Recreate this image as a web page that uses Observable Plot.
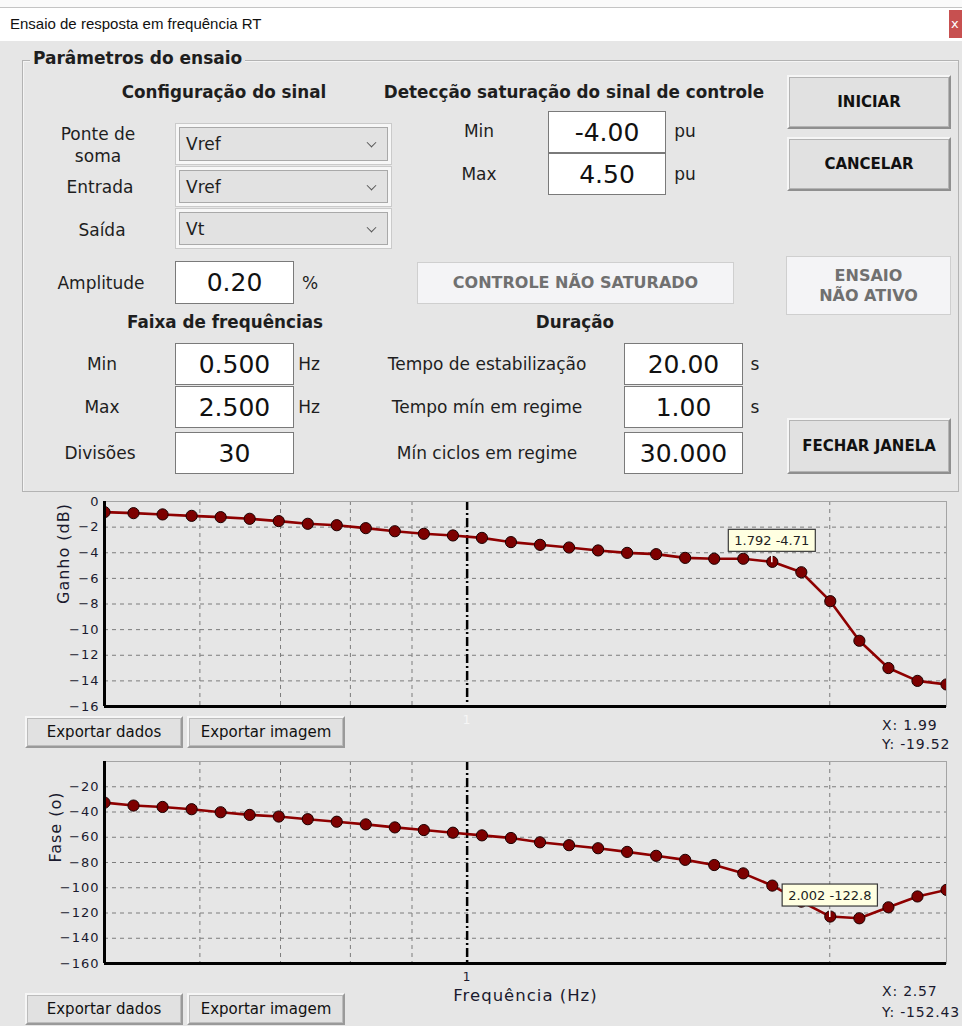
<!DOCTYPE html>
<html><head><meta charset="utf-8">
<script src="https://cdn.jsdelivr.net/npm/d3@7"></script>
<script src="https://cdn.jsdelivr.net/npm/@observablehq/plot@0.6"></script>
<style>
html,body{margin:0;padding:0}
body{width:962px;height:1026px;background:#e6e6e6;position:relative;overflow:hidden;font-family:"DejaVu Sans",sans-serif;color:#1e1e1e}
.abs{position:absolute}
.c{position:absolute;transform:translate(-50%,-50%);white-space:nowrap;font-size:17px;text-align:center}
.h{font-weight:bold;font-size:16.8px}
.tb{position:absolute;box-sizing:border-box;background:#fff;border:1px solid #7a7a7a;font-size:25px;display:flex;align-items:center;justify-content:center;color:#111}
.cb{position:absolute;box-sizing:border-box;border:1px solid #cacaca;background:#f7f7f7;padding:3px}
.cbi{position:relative;box-sizing:border-box;width:100%;height:100%;border:1px solid #a9a9a9;background:#e2e2e2;font-size:17px;display:flex;align-items:center;padding-left:6px}
.chev{position:absolute;right:12px;top:50%;width:6px;height:6px;border-right:1px solid #555;border-bottom:1px solid #555;transform:translateY(-70%) rotate(45deg)}
.btn{position:absolute;box-sizing:border-box;background:#e1e1e1;border:2px solid;border-color:#f6f6f6 #8f8f8f #8f8f8f #f6f6f6;box-shadow:inset 0 0 0 1px #b4b4b4;display:flex;align-items:center;justify-content:center;font-weight:bold;font-size:15px;color:#111}
.xbtn{position:absolute;box-sizing:border-box;background:#e1e1e1;border:2px solid;border-color:#f6f6f6 #9a9a9a #9a9a9a #f6f6f6;box-shadow:inset 0 0 0 1px #bcbcbc;display:flex;align-items:center;justify-content:center;font-size:15px;color:#111}
.st{position:absolute;box-sizing:border-box;background:#f4f4f6;border:1px solid #cfcfcf;display:flex;align-items:center;justify-content:center;text-align:center;font-weight:bold;font-size:16px;color:#707070;line-height:20px}
.ro{position:absolute;font-size:14px;letter-spacing:0.8px;color:#1a1a2e;white-space:nowrap;transform:translateY(-50%)}
.chart{position:absolute;left:0}
</style>
</head><body>
<!-- window title -->
<div class="abs" style="left:0;top:0;width:962px;height:7px;background:#fafafa;border-bottom:1px solid #c4c4c4"></div>
<div class="abs" style="left:0;top:8px;width:962px;height:33px;background:#fff"></div>
<div class="abs" style="left:10px;top:23px;transform:translateY(-50%);font-family:'Liberation Sans',sans-serif;font-size:15px;color:#111;white-space:nowrap">Ensaio de resposta em frequência RT</div>
<div class="abs" style="left:949px;top:10px;width:13px;height:28px;background:#c75050;color:#fff;font-size:13px;line-height:28px;padding-left:2px;box-sizing:border-box">x</div>

<!-- group box -->
<div class="abs" style="left:22px;top:60px;width:937px;height:432px;box-sizing:border-box;border:1px solid #b3b3b3;box-shadow:inset 1px 1px 0 #f4f4f4"></div>
<div class="abs" style="left:30px;top:58px;transform:translateY(-50%);background:#e6e6e6;padding:0 3px;font-size:17px;font-weight:bold;white-space:nowrap">Parâmetros do ensaio</div>

<div class="c h" style="left:224px;top:92px">Configuração do sinal</div>
<div class="c h" style="left:574px;top:92px">Detecção saturação do sinal de controle</div>
<div class="c h" style="left:225px;top:322px">Faixa de frequências</div>
<div class="c h" style="left:575px;top:322px">Duração</div>

<div class="c" style="left:98px;top:145px;line-height:22px">Ponte de<br>soma</div>
<div class="c" style="left:100px;top:187px">Entrada</div>
<div class="c" style="left:102px;top:230px">Saída</div>
<div class="c" style="left:101px;top:283px">Amplitude</div>
<div class="c" style="left:310px;top:283px">%</div>

<div class="cb" style="left:175px;top:123px;width:217px;height:42px"><div class="cbi">Vref<span class="chev"></span></div></div>
<div class="cb" style="left:175px;top:166px;width:217px;height:41px"><div class="cbi">Vref<span class="chev"></span></div></div>
<div class="cb" style="left:175px;top:208px;width:217px;height:41px"><div class="cbi">Vt<span class="chev"></span></div></div>

<div class="tb" style="left:175px;top:261px;width:119px;height:43px">0.20</div>

<div class="c" style="left:479px;top:131px">Min</div>
<div class="c" style="left:479px;top:174px">Max</div>
<div class="tb" style="left:548px;top:111px;width:118px;height:42px">-4.00</div>
<div class="tb" style="left:548px;top:153px;width:118px;height:42px">4.50</div>
<div class="c" style="left:685px;top:131px">pu</div>
<div class="c" style="left:685px;top:174px">pu</div>

<div class="btn" style="left:787px;top:75px;width:164px;height:54px">INICIAR</div>
<div class="btn" style="left:787px;top:137px;width:164px;height:54px">CANCELAR</div>
<div class="btn" style="left:787px;top:418px;width:164px;height:56px">FECHAR JANELA</div>

<div class="st" style="left:417px;top:262px;width:317px;height:42px">CONTROLE NÃO SATURADO</div>
<div class="st" style="left:786px;top:256px;width:165px;height:59px">ENSAIO<br>NÃO ATIVO</div>

<div class="c" style="left:102px;top:364px">Min</div>
<div class="c" style="left:102px;top:407px">Max</div>
<div class="c" style="left:100px;top:453px">Divisões</div>
<div class="tb" style="left:175px;top:343px;width:119px;height:42px">0.500</div>
<div class="tb" style="left:175px;top:386px;width:119px;height:42px">2.500</div>
<div class="tb" style="left:175px;top:432px;width:119px;height:42px">30</div>
<div class="c" style="left:309px;top:364px">Hz</div>
<div class="c" style="left:309px;top:407px">Hz</div>

<div class="c" style="left:487px;top:364px">Tempo de estabilização</div>
<div class="c" style="left:487px;top:407px">Tempo mín em regime</div>
<div class="c" style="left:487px;top:453px">Mín ciclos em regime</div>
<div class="tb" style="left:624px;top:343px;width:119px;height:42px">20.00</div>
<div class="tb" style="left:624px;top:386px;width:119px;height:42px">1.00</div>
<div class="tb" style="left:624px;top:432px;width:119px;height:42px">30.000</div>
<div class="c" style="left:755px;top:364px">s</div>
<div class="c" style="left:755px;top:407px">s</div>

<!-- charts -->
<div id="gain" class="chart" style="top:490px"></div>
<div id="phase" class="chart" style="top:750px"></div>

<div class="xbtn" style="left:25px;top:716px;width:158px;height:32px">Exportar dados</div>
<div class="xbtn" style="left:187px;top:716px;width:158px;height:32px">Exportar imagem</div>
<div class="xbtn" style="left:25px;top:993px;width:158px;height:32px">Exportar dados</div>
<div class="xbtn" style="left:187px;top:993px;width:158px;height:32px">Exportar imagem</div>

<div id="ro-gain-x" class="ro" style="left:882px;top:725px"></div>
<div id="ro-gain-y" class="ro" style="left:882px;top:744px"></div>
<div id="ro-phase-x" class="ro" style="left:882px;top:991px"></div>
<div id="ro-phase-y" class="ro" style="left:882px;top:1012px"></div>

<script>
// ---- data ----
const freqHz = [0.5, 0.5285, 0.5587, 0.5906, 0.6243, 0.6599, 0.6976, 0.7374, 0.7794, 0.8239,
  0.8709, 0.9206, 0.9732, 1.0287, 1.0874, 1.1495, 1.2151, 1.2844, 1.3577, 1.4352,
  1.5171, 1.6037, 1.6952, 1.792, 1.8942, 2.002, 2.1165, 2.2373, 2.365, 2.5];
const gainDb = [-0.83, -0.91, -1.01, -1.12, -1.22, -1.35, -1.53, -1.74, -1.85, -2.08,
  -2.32, -2.52, -2.65, -2.84, -3.17, -3.38, -3.59, -3.82, -4.01, -4.11,
  -4.40, -4.47, -4.47, -4.71, -5.52, -7.78, -10.87, -13.0, -14.0, -14.28];
const phaseDeg = [-32.6, -34.9, -36.0, -37.8, -40.2, -42.3, -43.6, -45.7, -47.7, -49.8,
  -52.2, -54.3, -56.4, -58.5, -60.6, -64.0, -66.3, -68.7, -71.6, -74.7,
  -77.9, -82.0, -88.6, -98.3, -111.0, -122.8, -124.2, -115.5, -106.9, -101.7];
const freqDomain = [0.5, 2.5];
const gainDomain = [-16, 0];
const phaseDomain = [-160, 0];
const gainTicks = [0, -2, -4, -6, -8, -10, -12, -14, -16];
const phaseTicks = [-20, -40, -60, -80, -100, -120, -140, -160];
const gridFreqs = [0.6, 0.7, 0.8, 0.9, 2];
const markerFreqs = [1];
const freqTickLabels = [1];
const gainLabel = "Ganho (dB)";
const phaseLabel = "Fase (o)";
const freqLabel = "Frequência (Hz)";
const gainCursor = {f: 1.792, v: -4.71, text: "1.792 -4.71"};
const phaseCursor = {f: 2.002, v: -122.8, text: "2.002 -122.8"};
const gainReadout = ["X: 1.99", "Y: -19.52"];
const phaseReadout = ["X: 2.57", "Y: -152.43"];

const gainData = freqHz.map((f, i) => ({f, v: gainDb[i]}));
const phaseData = freqHz.map((f, i) => ({f, v: phaseDeg[i]}));

function bode({data, yDomain, yTicks, yLabel, height, marginBottom, xLabel, xTickFill, labelDx}) {
  const gridStyle = {stroke: "#7c7c7c", strokeOpacity: 1, strokeDasharray: "4,4", strokeWidth: 1};
  const marks = [
    Plot.gridY(yTicks, gridStyle),
    Plot.gridX(gridFreqs, gridStyle),
    Plot.ruleX(markerFreqs, {stroke: "#000", strokeWidth: 2.5, strokeDasharray: "9,3,2,3"}),
    Plot.frame({stroke: "#a4a4a4"}),
    Plot.line(data, {x: "f", y: "v", stroke: "#8e0000", strokeWidth: 2.6, clip: true}),
    Plot.dot(data, {x: "f", y: "v", r: 5.6, fill: "#7d0000", stroke: "#1c0000", strokeWidth: 1, clip: true}),
    Plot.ruleX([freqDomain[0]], {stroke: "#000", strokeWidth: 3}),
    Plot.ruleY([yDomain[0]], {stroke: "#000", strokeWidth: 3}),
    Plot.axisY(yTicks, {tickSize: 0, tickPadding: 5, fontSize: 13, fill: "#1a1a2e", label: null, style: {letterSpacing: "1.4px"}}),
    Plot.axisX(freqTickLabels, {tickSize: 0, tickPadding: 9, fontSize: 12, fill: xTickFill, label: null, tickFormat: d => String(d)}),
    Plot.text([yLabel], {frameAnchor: "left", dx: labelDx, rotate: -90, fontSize: 16, fill: "#1a1a2e"})
  ];
  if (xLabel) marks.push(Plot.text([xLabel], {frameAnchor: "bottom", dy: 37, fontSize: 16.5, fill: "#1a1a2e"}));
  return Plot.plot({
    width: 962, height,
    marginLeft: 104, marginRight: 16, marginTop: 11, marginBottom,
    style: {background: "transparent", fontFamily: "DejaVu Sans, sans-serif", letterSpacing: "1px", overflow: "visible"},
    x: {type: "log", domain: freqDomain},
    y: {domain: yDomain},
    marks
  });
}

function addCursor(chart, c) {
  const x = chart.scale("x").apply(c.f);
  const y = chart.scale("y").apply(c.v);
  const svg = d3.select(chart.tagName.toLowerCase() === "svg" ? chart : chart.querySelector("svg"));
  const g = svg.append("g");
  g.append("line").attr("x1", x).attr("x2", x).attr("y1", y - 6).attr("y2", y + 1)
    .attr("stroke", "#fff").attr("stroke-width", 1.5);
  const rect = g.append("rect");
  const t = g.append("text").attr("x", x).attr("y", y - 21).attr("text-anchor", "middle")
    .attr("dominant-baseline", "central").attr("font-size", 13).attr("fill", "#222")
    .style("letter-spacing", "0px").text(c.text);
  const w = t.node().getComputedTextLength() + 12;
  rect.attr("x", x - w / 2).attr("y", y - 32).attr("width", w).attr("height", 22)
    .attr("fill", "#ffffe1").attr("stroke", "#3a3a3a").attr("stroke-width", 1.2);
}

const gainChart = bode({data: gainData, yDomain: gainDomain, yTicks: gainTicks, yLabel: gainLabel,
  height: 240, marginBottom: 24, xLabel: null, xTickFill: "#f6f6f6", labelDx: -41});
document.getElementById("gain").append(gainChart);
addCursor(gainChart, gainCursor);

const phaseChart = bode({data: phaseData, yDomain: phaseDomain, yTicks: phaseTicks, yLabel: phaseLabel,
  height: 276, marginBottom: 63, xLabel: freqLabel, xTickFill: "#1a1a2e", labelDx: -49});
document.getElementById("phase").append(phaseChart);
addCursor(phaseChart, phaseCursor);

document.getElementById("ro-gain-x").textContent = gainReadout[0];
document.getElementById("ro-gain-y").textContent = gainReadout[1];
document.getElementById("ro-phase-x").textContent = phaseReadout[0];
document.getElementById("ro-phase-y").textContent = phaseReadout[1];
</script>
</body></html>
